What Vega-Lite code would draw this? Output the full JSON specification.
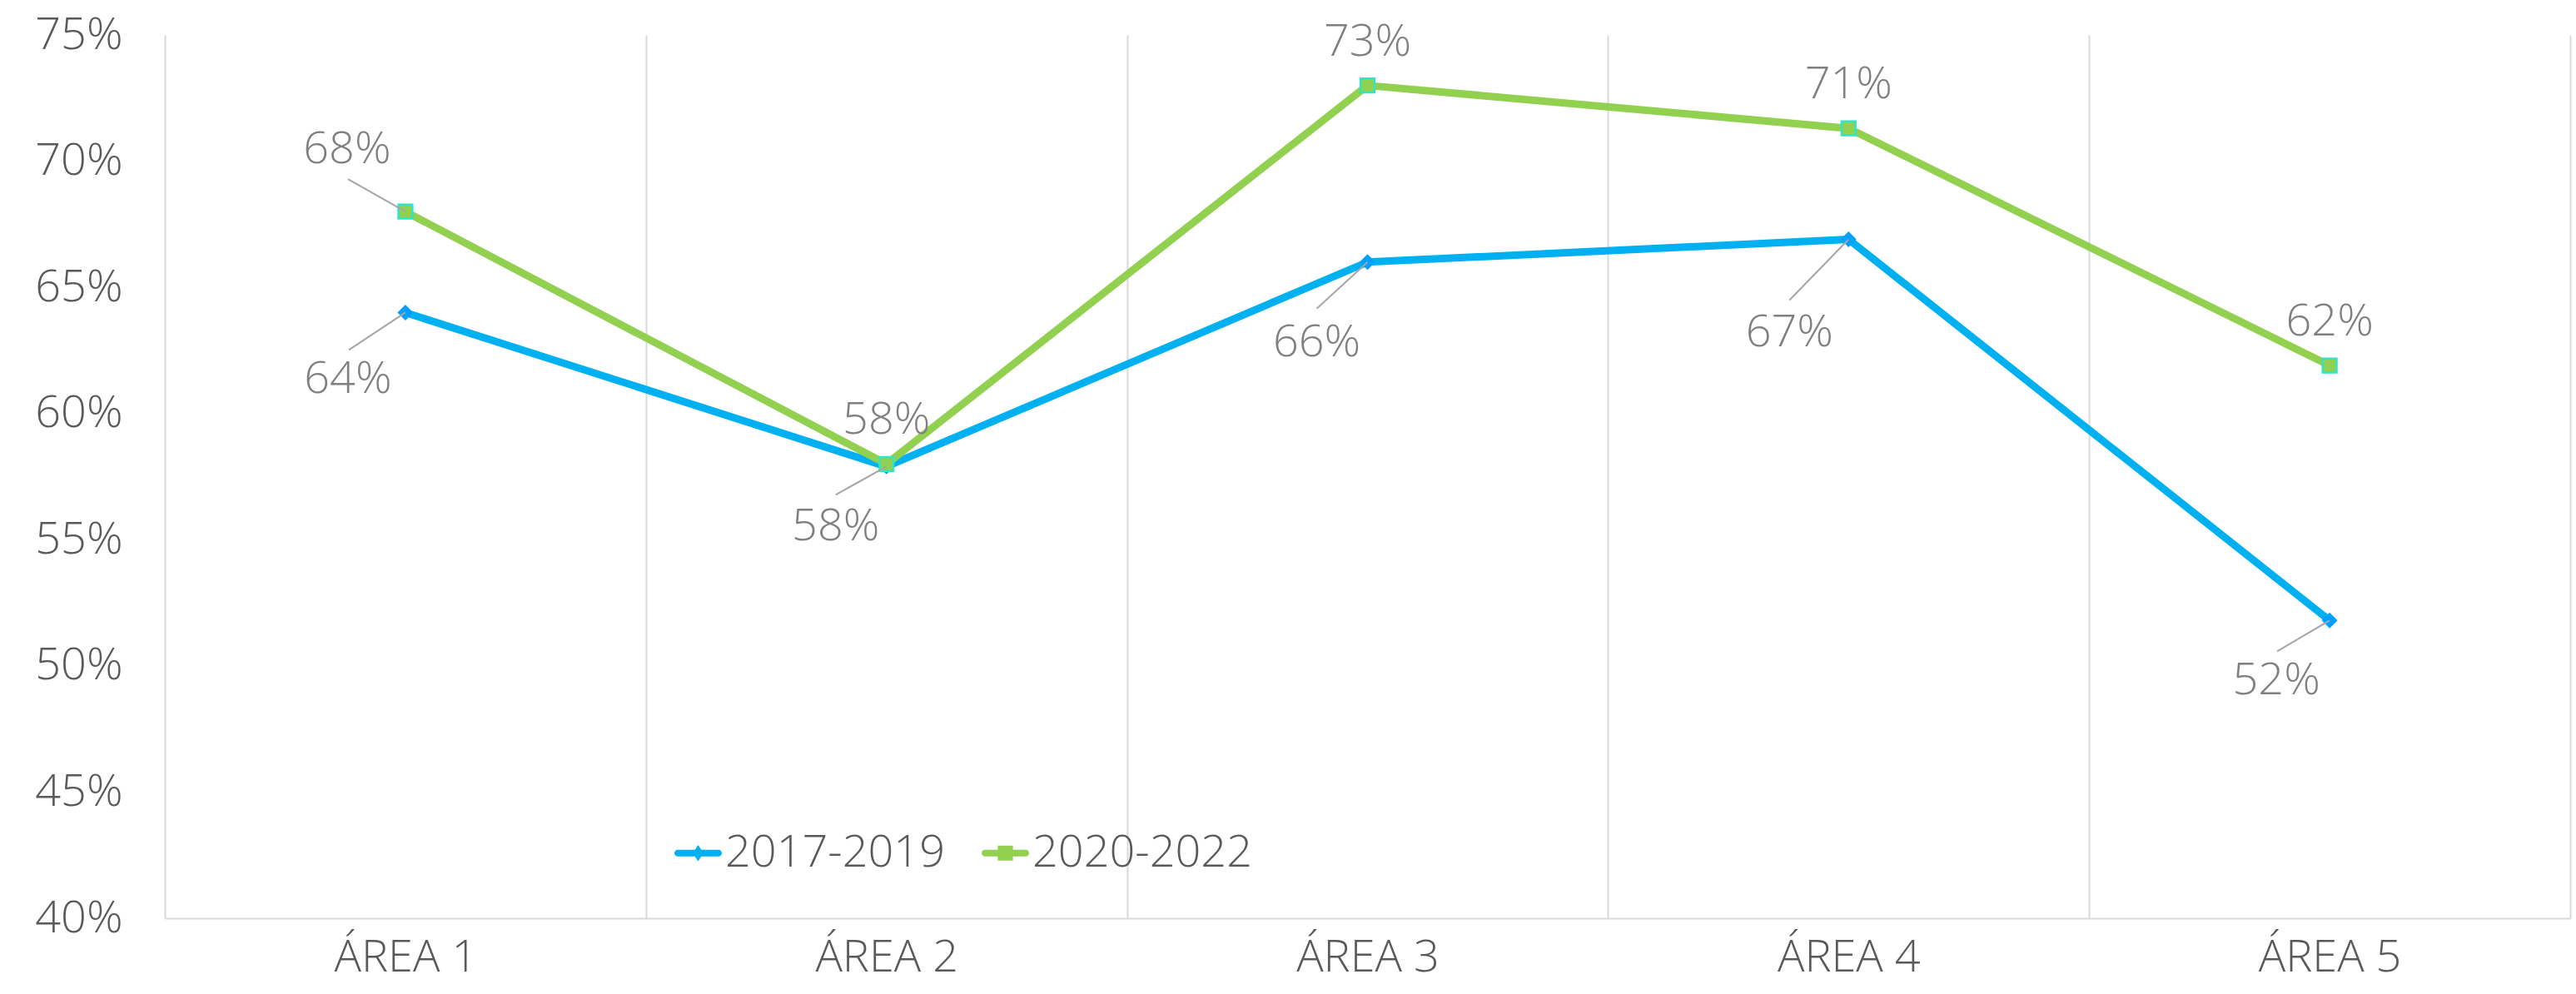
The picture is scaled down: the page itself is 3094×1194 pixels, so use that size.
{
  "$schema": "https://vega.github.io/schema/vega-lite/v6.json",
  "width": 2889,
  "height": 1061,
  "autosize": {"type": "none"},
  "padding": {"left": 198, "top": 42, "right": 7, "bottom": 91},
  "background": "white",
  "config": {
    "view": {"stroke": null},
    "font": "Open Sans"
  },
  "data": {
    "values": [
      {"Area": "ÁREA 1", "Series": "2017-2019", "Value": 0.640},
      {"Area": "ÁREA 2", "Series": "2017-2019", "Value": 0.579},
      {"Area": "ÁREA 3", "Series": "2017-2019", "Value": 0.660},
      {"Area": "ÁREA 4", "Series": "2017-2019", "Value": 0.669},
      {"Area": "ÁREA 5", "Series": "2017-2019", "Value": 0.518},
      {"Area": "ÁREA 1", "Series": "2020-2022", "Value": 0.680},
      {"Area": "ÁREA 2", "Series": "2020-2022", "Value": 0.580},
      {"Area": "ÁREA 3", "Series": "2020-2022", "Value": 0.730},
      {"Area": "ÁREA 4", "Series": "2020-2022", "Value": 0.713},
      {"Area": "ÁREA 5", "Series": "2020-2022", "Value": 0.619}
    ]
  },
  "encoding": {
    "x": {
      "field": "Area", "type": "nominal", "sort": null,
      "scale": {"type": "band", "paddingInner": 0, "paddingOuter": 0},
      "axis": {
        "title": null, "labelAngle": 0, "labelFont": "Open Sans", "labelFontSize": 54, "labelFontWeight": 350,
        "labelColor": "#595959", "ticks": false, "domain": true, "domainColor": "#D9D9D9",
        "domainWidth": 2, "grid": true, "gridColor": "#D9D9D9", "gridWidth": 2,
        "tickBand": "extent", "labelPadding": 20
      }
    },
    "y": {
      "field": "Value", "type": "quantitative",
      "scale": {"domain": [0.40, 0.75], "nice": false, "zero": false},
      "axis": {
        "title": null, "values": [0.40, 0.45, 0.50, 0.55, 0.60, 0.65, 0.70, 0.75],
        "format": ".0%", "grid": false, "domain": false, "ticks": false,
        "labelPadding": 51, "labelFont": "Open Sans", "labelFontSize": 54, "labelFontWeight": 350, "labelColor": "#595959"
      }
    }
  },
  "layer": [
    {
      "mark": {"type": "line", "strokeWidth": 9, "strokeCap": "round", "strokeJoin": "round"},
      "encoding": {
        "color": {
          "field": "Series", "type": "nominal",
          "scale": {"domain": ["2017-2019", "2020-2022"], "range": ["#00B0F0", "#92D050"]},
          "legend": {
            "orient": "none", "legendX": 612, "legendY": 954, "direction": "horizontal",
            "title": null, "labelFont": "Open Sans", "labelFontSize": 54, "labelFontWeight": 350, "labelColor": "#595959",
            "labelLimit": 0,
            "symbolSize": 3249, "symbolStrokeWidth": 0, "columnPadding": 44, "labelOffset": 4, "padding": 0,
            "encode": {
              "symbols": {
                "update": {
                  "shape": {"signal": "datum.value === '2017-2019' ? 'M-0.86,-0.14 L0.86,-0.14 A0.14,0.14 0 0 1 0.86,0.14 L-0.86,0.14 A0.14,0.14 0 0 1 -0.86,-0.14 Z M0,-0.34 L0.23,0 L0,0.34 L-0.23,0 Z' : 'M-0.86,-0.14 L0.86,-0.14 A0.14,0.14 0 0 1 0.86,0.14 L-0.86,0.14 A0.14,0.14 0 0 1 -0.86,-0.14 Z M-0.32,-0.32 L0.32,-0.32 L0.32,0.32 L-0.32,0.32 Z'"},
                  "fill": {"signal": "datum.value === '2017-2019' ? '#00B0F0' : '#92D050'"},
                  "stroke": {"value": "transparent"},
                  "strokeWidth": {"value": 0},
                  "fillOpacity": {"value": 1},
                  "opacity": {"value": 1}
                }
              }
            }
          }
        }
      }
    },
    {
      "transform": [{"filter": "datum.Series === '2017-2019'"}],
      "mark": {"type": "point", "shape": "diamond", "filled": true, "size": 260, "fill": "#00A0FF", "stroke": "#00A0FF", "strokeWidth": 2, "opacity": 1}
    },
    {
      "transform": [{"filter": "datum.Series === '2020-2022'"}],
      "mark": {"type": "point", "shape": "square", "filled": true, "size": 280, "fill": "#92D050", "stroke": "#2DE6C8", "strokeWidth": 2.5, "opacity": 1}
    },
    {
      "transform": [{"filter": "datum.Series === '2020-2022' && datum.Area !== 'ÁREA 1'"}],
      "mark": {"type": "text", "dy": -52, "fontSize": 54, "fontWeight": 350, "font": "Open Sans", "color": "#7F7F7F", "baseline": "middle"},
      "encoding": {"text": {"field": "Value", "type": "quantitative", "format": ".0%"}}
    },
    {
      "transform": [{"filter": "datum.Series === '2020-2022' && datum.Area === 'ÁREA 1'"}],
      "layer": [
        {"mark": {"type": "rule", "color": "#A6A6A6", "strokeWidth": 2, "x2Offset": -69, "y2Offset": -39},
         "encoding": {"x2": {"field": "Area"}, "y2": {"field": "Value"}}},
        {"mark": {"type": "text", "dx": -70, "dy": -74, "fontSize": 54, "fontWeight": 350, "font": "Open Sans", "color": "#7F7F7F", "baseline": "middle"},
         "encoding": {"text": {"field": "Value", "type": "quantitative", "format": ".0%"}}}
      ]
    },
    {
      "transform": [{"filter": "datum.Series === '2017-2019' && datum.Area === 'ÁREA 1'"}],
      "layer": [
        {"mark": {"type": "rule", "color": "#A6A6A6", "strokeWidth": 2, "x2Offset": -68, "y2Offset": 45},
         "encoding": {"x2": {"field": "Area"}, "y2": {"field": "Value"}}},
        {"mark": {"type": "text", "dx": -69, "dy": 81, "fontSize": 54, "fontWeight": 350, "font": "Open Sans", "color": "#7F7F7F", "baseline": "middle"},
         "encoding": {"text": {"field": "Value", "type": "quantitative", "format": ".0%"}}}
      ]
    },
    {
      "transform": [{"filter": "datum.Series === '2017-2019' && datum.Area === 'ÁREA 2'"}],
      "layer": [
        {"mark": {"type": "rule", "color": "#A6A6A6", "strokeWidth": 2, "x2Offset": -61, "y2Offset": 34},
         "encoding": {"x2": {"field": "Area"}, "y2": {"field": "Value"}}},
        {"mark": {"type": "text", "dx": -61, "dy": 73, "fontSize": 54, "fontWeight": 350, "font": "Open Sans", "color": "#7F7F7F", "baseline": "middle"},
         "encoding": {"text": {"field": "Value", "type": "quantitative", "format": ".0%"}}}
      ]
    },
    {
      "transform": [{"filter": "datum.Series === '2017-2019' && datum.Area === 'ÁREA 3'"}],
      "layer": [
        {"mark": {"type": "rule", "color": "#A6A6A6", "strokeWidth": 2, "x2Offset": -61, "y2Offset": 56},
         "encoding": {"x2": {"field": "Area"}, "y2": {"field": "Value"}}},
        {"mark": {"type": "text", "dx": -61, "dy": 97, "fontSize": 54, "fontWeight": 350, "font": "Open Sans", "color": "#7F7F7F", "baseline": "middle"},
         "encoding": {"text": {"field": "Value", "type": "quantitative", "format": ".0%"}}}
      ]
    },
    {
      "transform": [{"filter": "datum.Series === '2017-2019' && datum.Area === 'ÁREA 4'"}],
      "layer": [
        {"mark": {"type": "rule", "color": "#A6A6A6", "strokeWidth": 2, "x2Offset": -71, "y2Offset": 73},
         "encoding": {"x2": {"field": "Area"}, "y2": {"field": "Value"}}},
        {"mark": {"type": "text", "dx": -71, "dy": 112, "fontSize": 54, "fontWeight": 350, "font": "Open Sans", "color": "#7F7F7F", "baseline": "middle"},
         "encoding": {"text": {"field": "Value", "type": "quantitative", "format": ".0%"}}}
      ]
    },
    {
      "transform": [{"filter": "datum.Series === '2017-2019' && datum.Area === 'ÁREA 5'"}],
      "layer": [
        {"mark": {"type": "rule", "color": "#A6A6A6", "strokeWidth": 2, "x2Offset": -63, "y2Offset": 37},
         "encoding": {"x2": {"field": "Area"}, "y2": {"field": "Value"}}},
        {"mark": {"type": "text", "dx": -64, "dy": 73, "fontSize": 54, "fontWeight": 350, "font": "Open Sans", "color": "#7F7F7F", "baseline": "middle"},
         "encoding": {"text": {"field": "Value", "type": "quantitative", "format": ".0%"}}}
      ]
    }
  ]
}
